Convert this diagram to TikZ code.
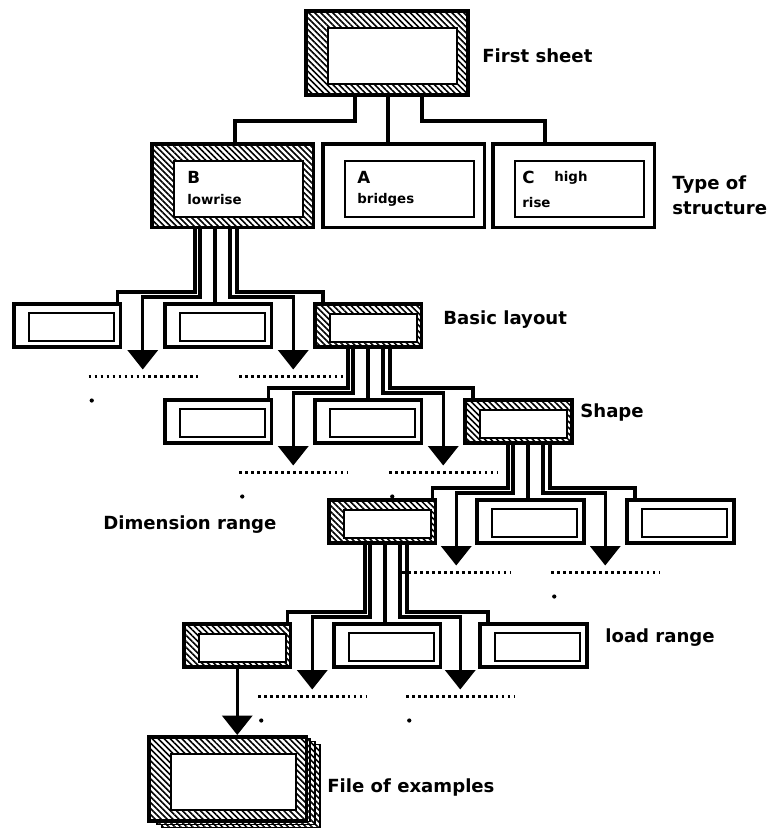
\documentclass[tikz,border=0pt]{standalone}
\usepackage{fontspec}
\setmainfont{DejaVu Sans}
\usetikzlibrary{
    arrows.meta,
    calc,
    patterns.meta
}

\tikzset{
  wire/.style={line width=1.75pt},
  downtip/.style={-{Triangle[width=17pt,length=11pt]}},
  ellipsisline/.style={line width=1.5pt, dash pattern=on 1.5pt off 1.9pt},
  hatched/.style={pattern={Lines[angle=-45,distance=2.4pt,line width=0.9pt]}},
  innerframe/.style n args={4}{path picture={%
    \draw[line width=1.1pt, fill=white]
      ([shift={(#1,#2)}]path picture bounding box.north west) rectangle
      ([shift={(-#3,-#4)}]path picture bounding box.south east);}},
  bigsheet/.style={draw, line width=2pt, inner sep=0pt, anchor=north west,
    minimum width=3.24cm, minimum height=1.68cm, innerframe={22}{17}{11}{11}},
  smallsheet/.style={draw, line width=2pt, inner sep=0pt, anchor=north west,
    minimum width=2.14cm, minimum height=0.86cm, innerframe={15}{9}{7}{6}},
  smallpick/.style={smallsheet, hatched, innerframe={15}{10}{5}{5}},
  lbl/.style={inner sep=0pt, anchor=west, font=\bfseries\fontsize{10.3}{14}\selectfont},
  letter/.style={inner sep=0pt, anchor=west, font=\bfseries\fontsize{9.5}{11}\selectfont},
  note/.style={inner sep=0pt, anchor=west, font=\bfseries\fontsize{7.6}{9}\selectfont}
}

% five lines from a chosen sheet: #1 parent, #2 offset of first line, #3-#5 children
\newcommand{\branchout}[5]{%
  \coordinate (#1-o) at ($(#1.south west)+(#2,0)$);
  \coordinate (#1-m) at ($(#1-o)+(20,0)$);
  \coordinate (#1-t1) at ($(#3.south east)!.5!(#4.south west)+(0,21)$);
  \coordinate (#1-t2) at ($(#4.south east)!.5!(#5.south west)+(0,21)$);
  \draw[wire] (#1-o) |- ($(#3.north east)+(-5,-10)$) -- ($(#3.north east)+(-5,0)$);
  \draw[wire, downtip] ($(#1-o)+(5,0)$) |- ($(#3.north east)!.5!(#4.north west)+(0,-5)$) -- (#1-t1);
  \draw[wire] (#1-m) -- (#1-m |- #4.north);
  \draw[wire, downtip] ($(#1-o)+(35,0)$) |- ($(#4.north east)!.5!(#5.north west)+(0,-5)$) -- (#1-t2);
  \draw[wire] ($(#1-o)+(42,0)$) |- ($(#5.north west)+(10,-10)$) -- ($(#5.north west)+(10,0)$);
  \draw[ellipsisline] ($(#1-t1)+(-54,7)$) -- +(109,0);
  \draw[ellipsisline] ($(#1-t2)+(-54,7)$) -- +(109,0);
}

\begin{document}
\begin{tikzpicture}[x=0.02cm, y=-0.02cm]
\useasboundingbox (0,0) rectangle (774,831);

% First sheet
\node[bigsheet, hatched] (first) at (305,10) {};
\node[lbl] (firstlbl) at (482,56) {First sheet};

% Type of structure
\node[bigsheet, hatched] (b) at (150,142) {};
\node[bigsheet] (a) at (321,142) {};
\node[bigsheet] (c) at (491,142) {};
\node[letter] (bkey) at (187,177) {B};
\node[note] (bname) at (187,200) {lowrise};
\node[letter] (akey) at (357,177) {A};
\node[note] (aname) at (357,200) {bridges};
\node[letter] (ckey) at (522,177) {C};
\node[note] (chigh) at (554,178) {high};
\node[note] (crise) at (522,203) {rise};
\node[lbl, align=left] (typelbl) at (672,195) {Type of\\structure};

\coordinate (first-o) at ($(first.south west)+(50,0)$);
\coordinate (first-m) at ($(first-o)+(33,0)$);
\draw[wire] (first-o) |- ($(b.north west)+(85,-21)$) -- ($(b.north west)+(85,0)$);
\draw[wire] (first-m) -- (first-m |- a.north);
\draw[wire] ($(first-o)+(67,0)$) |- ($(c.north west)+(54,-21)$) -- ($(c.north west)+(54,0)$);

% Basic layout
\node[smallsheet] (p1a) at (12,302) {};
\node[smallsheet] (p1b) at (163,302) {};
\node[smallpick] (p1c) at (313,302) {};
\node[lbl] (layoutlbl) at (443,320) {Basic layout};
\branchout{b}{45}{p1a}{p1b}{p1c}

% Shape
\node[smallsheet] (s1) at (163,398) {};
\node[smallsheet] (s2) at (313,398) {};
\node[smallpick] (s3) at (463,398) {};
\node[lbl] (shapelbl) at (580,413) {Shape};
\branchout{p1c}{35}{s1}{s2}{s3}

% Dimension range
\node[smallpick] (dim1) at (327,498) {};
\node[smallsheet] (dim2) at (475,498) {};
\node[smallsheet] (dim3) at (625,498) {};
\node[lbl] (dimlbl) at (103,525) {Dimension range};
\branchout{s3}{45}{dim1}{dim2}{dim3}

% load range
\node[smallpick] (ld1) at (182,622) {};
\node[smallsheet] (ld2) at (332,622) {};
\node[smallsheet] (ld3) at (478,622) {};
\node[lbl] (loadlbl) at (605,638) {load range};
\branchout{dim1}{38}{ld1}{ld2}{ld3}

% dots under the dotted lines
\foreach \t in {b-t1, p1c-t1, p1c-t2, s3-t2, dim1-t1, dim1-t2}
  \fill ($(\t)+(-51,31)$) circle[radius=1.2pt];

% File of examples (stack of sheets)
\foreach \s in {3,2,1}
  \draw[line width=0.6pt, fill=white, postaction={hatched}] (147+5*\s,735+3.3*\s) rectangle ++(158,83);
\node[bigsheet, hatched, preaction={fill=white}, minimum width=3.16cm] (file) at (147,735) {};
\node[lbl] (filelbl) at (327,787) {File of examples};
\draw[wire, downtip] (ld1.south) -- (ld1.south |- file.north);

\end{tikzpicture}
\end{document}
